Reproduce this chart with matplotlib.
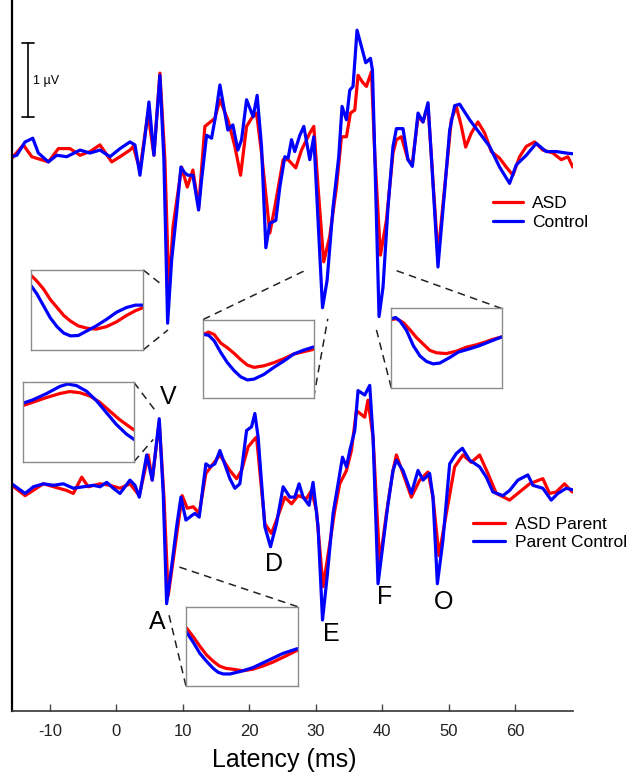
import matplotlib.pyplot as plt

plt.rcParams['font.family'] = ['Liberation Sans', 'DejaVu Sans']
plt.rcParams['axes.unicode_minus'] = False
plt.rcParams['lines.solid_joinstyle'] = 'round'
plt.rcParams['lines.solid_capstyle'] = 'round'

RED = '#ff0000'
BLUE = '#0000ff'

# ---- top pair: ASD vs Control (latency ms, amplitude uV) ----
asd_lat = [-15.71, -13.97, -12.71, -10.21, -8.71, -6.96, -5.45, -3.95, -2.45, -0.69, 0.56, 2.06, 2.55,
           3.56, 4.76, 5.66, 6.56, 7.31, 7.92, 8.52, 9.26, 9.82, 10.67, 11.52, 12.38, 13.32, 14.83, 15.58,
           16.78, 17.83, 18.69, 19.59, 20.34, 21.09, 21.84, 23.09, 23.84, 25.09, 25.84, 26.99, 27.85, 29.10,
           29.70, 30.34, 31.19, 32.09, 33.11, 33.86, 34.61, 35.21, 35.86, 36.35, 37.01, 37.61, 38.37, 38.86,
           39.72, 40.62, 41.61, 42.12, 42.87, 43.86, 44.52, 45.37, 46.12, 46.87, 47.38, 48.37, 49.38, 50.38,
           51.13, 51.89, 52.53, 53.39, 54.38, 55.39, 56.39, 57.64, 58.64, 59.64, 60.64, 61.65, 62.90, 64.14,
           65.65, 66.91, 67.90, 68.65]
asd_amp = [-0.07, 0.11, -0.05, -0.12, 0.06, 0.06, -0.03, 0.02, 0.11, -0.12, -0.05, 0.04, 0.09,
           -0.23, 0.54, -0.03, 1.08, -0.09, -1.89, -1.00, -0.54, -0.19, -0.46, -0.23, -0.73, 0.36, 0.47, 0.72,
           0.45, 0.09, -0.30, 0.36, 0.47, 0.54, 0.00, -1.08, -0.73, -0.09, -0.09, -0.20, 0.04, 0.27,
           0.36, -0.46, -1.47, -1.13, -0.46, 0.22, 0.22, 0.54, 0.58, 1.05, 0.96, 0.90, 1.10, 0.00,
           -1.38, -0.91, 0.00, 0.18, 0.22, -0.09, -0.14, 0.49, 0.42, 0.65, -0.05, -1.38, -0.46, 0.45,
           0.63, 0.36, 0.08, 0.27, 0.42, 0.27, 0.02, -0.07, -0.19, -0.30, -0.05, 0.09, 0.15, 0.04,
           0.00, -0.09, -0.05, -0.19]

ctrl_lat = [-15.71, -14.96, -13.71, -12.56, -11.72, -10.21, -8.95, -7.45, -5.45, -3.95, -2.45, -0.95, 0.56,
            2.06, 2.81, 3.56, 4.31, 4.91, 5.66, 6.56, 7.16, 7.72, 8.32, 9.07, 9.72, 10.32, 10.77, 11.52,
            12.38, 12.83, 13.58, 14.33, 14.83, 15.58, 16.78, 17.53, 18.28, 18.84, 19.59, 20.58, 21.18, 21.84,
            22.49, 23.09, 23.99, 24.59, 25.34, 25.84, 26.35, 26.84, 27.60, 28.20, 29.10, 29.70, 30.34, 31.01,
            31.70, 32.60, 33.45, 33.95, 34.61, 35.11, 35.60, 36.20, 36.86, 37.51, 38.22, 38.52, 38.86, 39.51,
            40.11, 40.86, 41.61, 42.12, 43.11, 43.86, 44.52, 45.37, 46.12, 46.87, 47.38, 48.37, 49.38, 50.13,
            50.88, 51.63, 53.13, 54.63, 56.13, 57.64, 59.14, 60.15, 61.65, 63.15, 64.65, 66.16, 67.66, 68.65]
ctrl_amp = [-0.05, -0.03, 0.15, 0.20, 0.00, -0.12, -0.03, -0.05, 0.04, 0.00, 0.04, -0.05, 0.06,
            0.15, 0.11, -0.30, 0.22, 0.69, -0.03, 1.05, -0.09, -2.30, -1.45, -0.81, -0.19, -0.27, -0.30, -0.30,
            -0.77, -0.36, 0.24, 0.20, 0.45, 0.92, 0.31, 0.38, 0.04, 0.18, 0.72, 0.49, 0.78, 0.09,
            -1.28, -0.95, -0.91, -0.46, -0.05, -0.07, 0.18, 0.02, 0.24, 0.36, -0.09, 0.22, -0.91, -2.09,
            -1.72, -0.73, -0.05, 0.63, 0.45, 0.85, 0.90, 1.66, 1.44, 1.22, 1.28, 1.12, 0.00, -2.21,
            -1.81, -0.73, 0.09, 0.33, 0.33, -0.09, -0.18, 0.54, 0.42, 0.68, -0.05, -1.54, -0.50, 0.31,
            0.64, 0.66, 0.45, 0.27, 0.09, -0.19, -0.41, -0.16, -0.03, 0.13, 0.02, 0.02, 0.00, -0.01]

# ---- bottom pair: ASD Parent vs Parent Control ----
par_asd_lat = [-15.71, -13.71, -10.97, -7.45, -6.46, -5.20, -4.21, -2.45, -0.95, 0.56, 2.06, 3.46, 4.81,
               5.41, 6.46, 7.17, 7.81, 8.56, 9.31, 9.91, 10.67, 11.57, 12.47, 13.47, 14.57, 15.58, 17.08,
               18.09, 18.84, 19.83, 20.84, 21.09, 21.33, 22.34, 23.34, 24.09, 25.34, 26.35, 27.34, 28.60,
               29.35, 30.10, 31.10, 32.10, 32.85, 33.60, 34.61, 35.36, 36.11, 37.36, 37.85, 38.61, 39.61,
               40.62, 41.61, 42.12, 43.11, 44.37, 45.62, 46.87, 47.62, 48.52, 49.63, 50.88, 52.13, 53.39,
               54.63, 55.88, 57.14, 59.14, 60.64, 62.14, 64.14, 65.15, 66.16, 67.40, 68.56]
par_asd_amp = [0.00, -0.14, 0.02, -0.07, -0.11, 0.11, -0.02, 0.02, 0.00, -0.04, 0.02, -0.14, 0.41,
               0.07, 0.86, -0.16, -1.49, -1.01, -0.52, -0.14, -0.31, -0.29, -0.38, 0.16, 0.29, 0.41, 0.20,
               0.09, 0.20, 0.52, 0.63, 0.65, 0.43, -0.52, -0.65, -0.47, -0.16, -0.25, -0.14, -0.18,
               -0.07, -0.34, -1.37, -0.79, -0.34, 0.02, 0.20, 0.47, 1.01, 0.92, 1.15, 0.65, -1.06,
               -0.38, 0.20, 0.41, 0.16, -0.16, 0.07, 0.18, -0.16, -0.95, -0.38, 0.25, 0.41, 0.31,
               0.41, 0.16, -0.11, -0.20, -0.09, 0.02, 0.09, -0.11, -0.09, 0.02, -0.09]

par_ctrl_lat = [-15.71, -13.71, -12.47, -10.97, -9.46, -7.96, -6.46, -4.96, -3.46, -2.45, -1.44, -0.45, 0.56,
                2.06, 2.81, 3.46, 4.57, 5.41, 6.46, 7.06, 7.57, 8.32, 9.07, 9.72, 10.47, 11.33, 11.82, 12.47,
                13.47, 14.08, 14.83, 15.58, 17.08, 17.83, 18.58, 19.59, 20.34, 20.84, 21.33, 22.34, 23.19,
                24.09, 25.09, 26.09, 26.84, 27.49, 28.09, 28.99, 29.59, 30.34, 31.01, 31.70, 32.60, 33.35,
                34.01, 34.61, 35.11, 35.86, 36.35, 37.36, 38.11, 38.61, 39.36, 40.11, 40.86, 41.61, 42.12,
                43.11, 44.37, 45.37, 46.12, 47.12, 47.62, 48.28, 49.12, 50.13, 51.13, 52.04, 53.13, 54.63,
                55.64, 56.63, 58.13, 59.14, 60.39, 61.89, 62.64, 64.14, 65.40, 66.40, 67.66, 68.56]
par_ctrl_amp = [0.02, -0.11, -0.02, 0.02, 0.00, 0.02, -0.04, -0.02, 0.00, -0.02, 0.04, -0.04, -0.11,
                0.07, 0.00, -0.16, 0.41, 0.07, 0.90, -0.11, -1.60, -1.10, -0.56, -0.16, -0.47, -0.41, -0.38, -0.43,
                0.29, 0.25, 0.29, 0.47, 0.09, -0.04, 0.02, 0.74, 0.79, 0.97, 0.65, -0.56, -0.83,
                -0.52, -0.02, -0.16, -0.16, 0.02, -0.16, -0.27, 0.04, -0.56, -1.82, -1.24, -0.38, 0.02,
                0.38, 0.25, 0.47, 0.74, 1.28, 1.22, 1.35, 0.65, -1.33, -0.79, -0.25, 0.20, 0.34,
                0.20, -0.11, 0.20, 0.07, 0.16, -0.16, -1.33, -0.74, 0.29, 0.43, 0.50, 0.34, 0.25,
                0.11, -0.09, -0.14, -0.07, 0.07, 0.14, 0.00, -0.04, -0.20, -0.11, -0.04, -0.06]

top_offset = 7.54
bottom_offset = 3.05

# ---- zoomed insets (normalised time / amplitude inside each box) ----
zoom_top_a_t = [0, 0.05, 0.11, 0.17, 0.23, 0.29, 0.35, 0.42, 0.50, 0.58, 0.67, 0.76, 0.85, 0.93, 1.0]
zoom_top_a_asd = [0.93, 0.86, 0.76, 0.63, 0.53, 0.43, 0.36, 0.30, 0.27, 0.26, 0.29, 0.35, 0.43, 0.49, 0.53]
zoom_top_a_ctrl = [0.80, 0.70, 0.55, 0.40, 0.29, 0.21, 0.175, 0.18, 0.24, 0.30, 0.38, 0.47, 0.53, 0.56, 0.56]

zoom_top_e_t = [0, 0.05, 0.10, 0.16, 0.22, 0.28, 0.34, 0.40, 0.46, 0.55, 0.64, 0.73, 0.82, 0.91, 1.0]
zoom_top_e_asd = [0.81, 0.84, 0.81, 0.70, 0.64, 0.57, 0.49, 0.42, 0.39, 0.41, 0.45, 0.50, 0.56, 0.59, 0.62]
zoom_top_e_ctrl = [0.81, 0.80, 0.73, 0.58, 0.45, 0.35, 0.27, 0.23, 0.24, 0.30, 0.39, 0.47, 0.56, 0.61, 0.65]

zoom_top_f_t_asd = [0, 0.05, 0.11, 0.17, 0.23, 0.29, 0.35, 0.41, 0.50, 0.59, 0.68, 0.77, 0.86, 0.92, 1.0]
zoom_top_f_asd = [0.86, 0.87, 0.82, 0.73, 0.63, 0.55, 0.47, 0.44, 0.43, 0.46, 0.51, 0.54, 0.58, 0.61, 0.64]
zoom_top_f_t_ctrl = [0, 0.04, 0.08, 0.14, 0.20, 0.26, 0.32, 0.38, 0.44, 0.53, 0.61, 0.71, 0.80, 0.89, 1.0]
zoom_top_f_ctrl = [0.87, 0.885, 0.84, 0.72, 0.53, 0.40, 0.33, 0.30, 0.31, 0.38, 0.45, 0.49, 0.53, 0.58, 0.64]

zoom_bot_v_t_asd = [0, 0.085, 0.21, 0.33, 0.42, 0.51, 0.60, 0.69, 0.78, 0.87, 1.0]
zoom_bot_v_asd = [0.71, 0.75, 0.81, 0.86, 0.885, 0.87, 0.83, 0.75, 0.64, 0.53, 0.40]
zoom_bot_v_t_ctrl = [0, 0.085, 0.21, 0.33, 0.40, 0.48, 0.57, 0.66, 0.75, 0.84, 0.93, 1.0]
zoom_bot_v_ctrl = [0.74, 0.78, 0.86, 0.95, 0.98, 0.96, 0.89, 0.77, 0.62, 0.47, 0.35, 0.28]

zoom_bot_a_t_asd = [0, 0.066, 0.125, 0.185, 0.245, 0.30, 0.36, 0.42, 0.51, 0.60, 0.69, 0.78, 0.87, 1.0]
zoom_bot_a_asd = [0.74, 0.62, 0.50, 0.39, 0.31, 0.25, 0.22, 0.21, 0.19, 0.21, 0.25, 0.30, 0.36, 0.45]
zoom_bot_a_t_ctrl = [0, 0.066, 0.125, 0.185, 0.245, 0.29, 0.335, 0.394, 0.454, 0.51, 0.60, 0.69, 0.78, 0.87, 1.0]
zoom_bot_a_ctrl = [0.69, 0.55, 0.41, 0.31, 0.22, 0.17, 0.15, 0.15, 0.17, 0.19, 0.23, 0.29, 0.35, 0.41, 0.47]

# peak labels
peak_names = ['V', 'A', 'D', 'E', 'F', 'O']
peak_lat = [7.77, 6.12, 23.69, 32.40, 40.36, 49.2]
peak_y = [4.24, 1.20, 1.99, 1.04, 1.54, 1.47]


fig = plt.figure(figsize=(6.34, 7.75), dpi=100)
ax = fig.add_axes([12 / 634, 64 / 775, 561.3 / 634, 711 / 775])

lw = 2.3
ax.plot(asd_lat, [a + top_offset for a in asd_amp], color=RED, lw=lw, label='ASD')
ax.plot(ctrl_lat, [a + top_offset for a in ctrl_amp], color=BLUE, lw=lw, label='Control')
l3, = ax.plot(par_asd_lat, [a + bottom_offset for a in par_asd_amp], color=RED, lw=lw)
l4, = ax.plot(par_ctrl_lat, [a + bottom_offset for a in par_ctrl_amp], color=BLUE, lw=lw)

ax.set_xlim(-15.68, 68.72)
ax.set_ylim(0, 9.608)
ax.set_xticks([-10, 0, 10, 20, 30, 40, 50, 60])
ax.set_yticks([])
ax.tick_params(axis='x', direction='in', length=5, width=1, pad=9, labelsize=12,
               colors='#444444', labelcolor='#222222')
for s in ['top', 'right']:
    ax.spines[s].set_visible(False)
ax.spines['left'].set_linewidth(1.6)
ax.spines['bottom'].set_linewidth(1.2)
ax.spines['bottom'].set_color('#333333')
ax.set_xlabel('Latency (ms)', fontsize=18)
ax.xaxis.set_label_coords(0.4846, -0.052)

# scale bar
ax.plot([-13.31, -13.31], [8.03, 9.03], color='black', lw=1.2)
ax.plot([-14.2, -12.4], [9.03, 9.03], color='black', lw=1.2)
ax.plot([-14.2, -12.4], [8.03, 8.03], color='black', lw=1.2)
ax.text(-12.45, 8.52, '1 \u00b5V', fontsize=9, va='center', ha='left')

for name, x, y in zip(peak_names, peak_lat, peak_y):
    ax.text(x, y, name, fontsize=18, ha='center', va='center')

leg1 = ax.legend(loc='upper left', bbox_to_anchor=(493 / 634, (775 - 196) / 775),
                 bbox_transform=fig.transFigure, frameon=False, fontsize=12.5,
                 handlelength=1.7, handletextpad=0.55, labelspacing=0.2, borderpad=0, borderaxespad=0)
ax.add_artist(leg1)
ax.legend([l3, l4], ['ASD Parent', 'Parent Control'], loc='upper left',
          bbox_to_anchor=(473 / 634, (775 - 516.5) / 775), bbox_transform=fig.transFigure,
          frameon=False, fontsize=12.5, handlelength=1.85, handletextpad=0.55, labelspacing=0.2,
          borderpad=0, borderaxespad=0)

insets = [
    ([-12.78, 4.88, 16.84, 1.08], zoom_top_a_t, zoom_top_a_asd, zoom_top_a_t, zoom_top_a_ctrl,
     [((4.06, 5.96), (6.71, 5.77)), ((4.06, 4.88), (7.77, 5.15))]),
    ([13.05, 4.23, 16.62, 1.06], zoom_top_e_t, zoom_top_e_asd, zoom_top_e_t, zoom_top_e_ctrl,
     [((13.05, 5.29), (28.80, 5.97)), ((29.67, 4.23), (31.80, 5.30))]),
    ([41.34, 4.37, 16.60, 1.07], zoom_top_f_t_asd, zoom_top_f_asd, zoom_top_f_t_ctrl, zoom_top_f_ctrl,
     [((57.94, 5.44), (41.52, 5.97)), ((41.34, 4.37), (39.09, 5.16))]),
    ([-13.96, 3.37, 16.62, 1.07], zoom_bot_v_t_asd, zoom_bot_v_asd, zoom_bot_v_t_ctrl, zoom_bot_v_ctrl,
     [((2.66, 4.44), (6.11, 4.03)), ((2.66, 3.37), (5.56, 3.67))]),
    ([10.47, 0.34, 16.78, 1.07], zoom_bot_a_t_asd, zoom_bot_a_asd, zoom_bot_a_t_ctrl, zoom_bot_a_ctrl,
     [((27.25, 1.41), (9.31, 1.95)), ((10.47, 0.34), (7.81, 1.34))]),
]

for bounds, t1, v1, t2, v2, links in insets:
    for (x0, y0), (x1, y1) in links:
        ax.plot([x0, x1], [y0, y1], color='#222222', lw=1.1, ls=(0, (5, 3.5)))
    ins = ax.inset_axes(bounds, transform=ax.transData)
    ins.plot(t1, v1, color=RED, lw=2.3)
    ins.plot(t2, v2, color=BLUE, lw=2.3)
    ins.set_xlim(0, 1)
    ins.set_ylim(0, 1)
    ins.set_xticks([])
    ins.set_yticks([])
    for s in ins.spines.values():
        s.set_color('#8c8c8c')
        s.set_linewidth(1.0)

fig.savefig('out.png', dpi=100)
